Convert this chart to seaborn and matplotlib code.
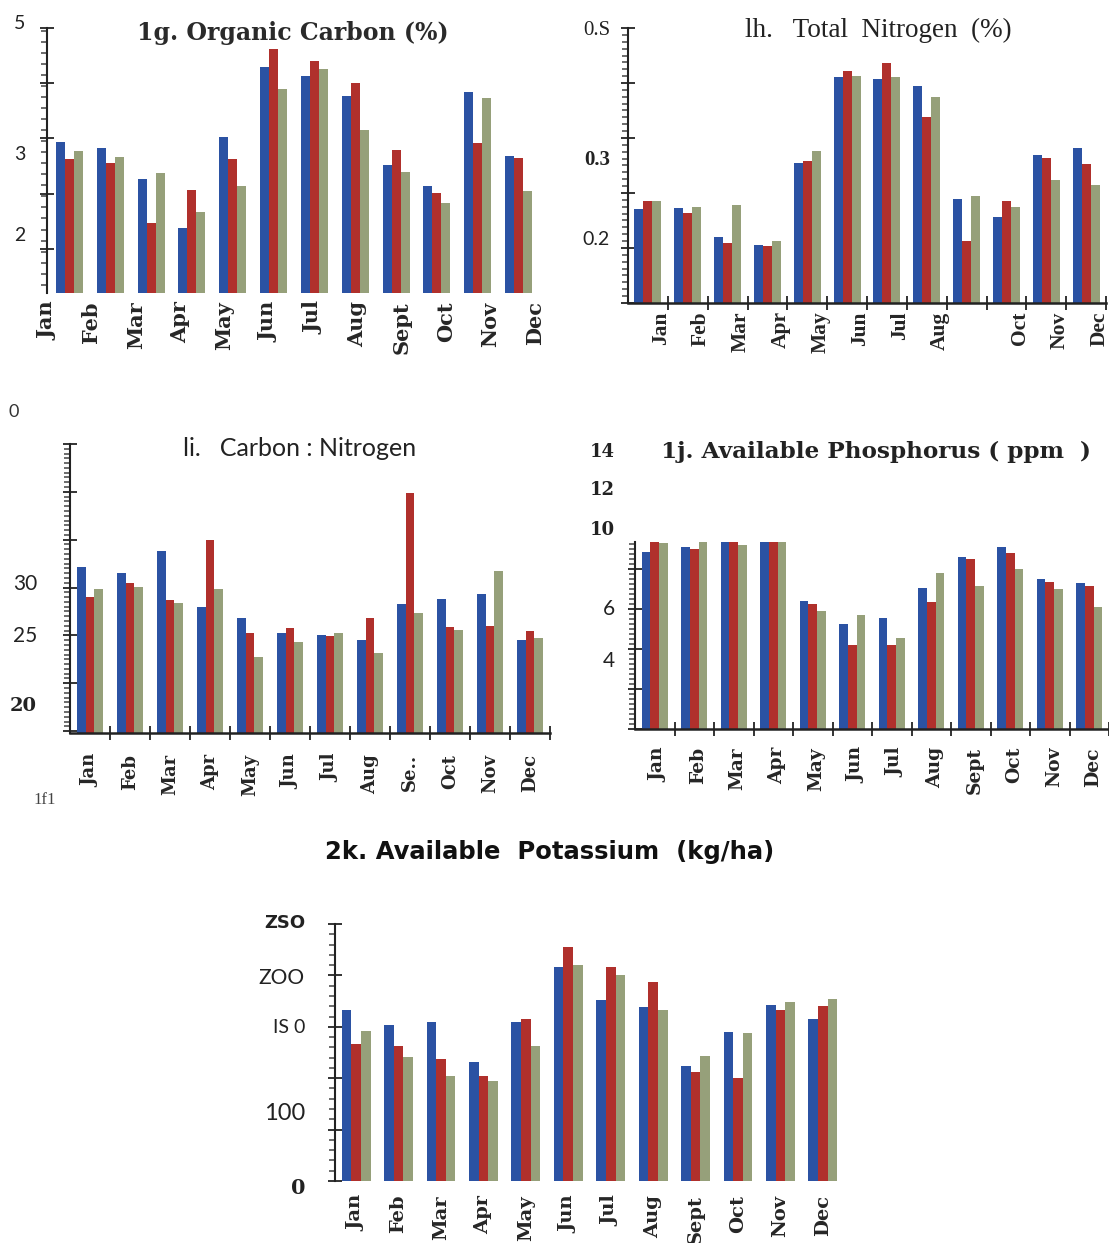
import numpy as np
import pandas as pd
import matplotlib
matplotlib.use("Agg")
import matplotlib.pyplot as plt
import seaborn as sns
from matplotlib.ticker import MultipleLocator, FixedLocator

W, H = 1109, 1243

months = ["Jan", "Feb", "Mar", "Apr", "May", "Jun",
          "Jul", "Aug", "Sept", "Oct", "Nov", "Dec"]
series = ["S1", "S2", "S3"]
colors = ["#2b52a3", "#b0302c", "#96a07a"]

# 1g. Organic Carbon (%)
oc_1 = [3.35, 3.26, 2.81, 2.10, 3.42, 4.43, 4.30, 4.01, 3.01, 2.71, 4.07, 3.15]
oc_2 = [3.10, 3.04, 2.17, 2.65, 3.10, 4.70, 4.52, 4.20, 3.23, 2.61, 3.33, 3.12]
oc_3 = [3.22, 3.13, 2.90, 2.33, 2.71, 4.12, 4.41, 3.52, 2.91, 2.46, 3.99, 2.64]

# lh. Total Nitrogen (%)
tn_1 = [0.237, 0.238, 0.196, 0.184, 0.304, 0.429, 0.426, 0.415, 0.251, 0.225, 0.315, 0.326]
tn_2 = [0.248, 0.231, 0.187, 0.183, 0.307, 0.437, 0.449, 0.371, 0.190, 0.248, 0.311, 0.302]
tn_3 = [0.248, 0.240, 0.243, 0.190, 0.321, 0.430, 0.429, 0.400, 0.256, 0.240, 0.279, 0.271]

# li. Carbon : Nitrogen
cn_1 = [32.1, 31.5, 33.8, 28.0, 26.8, 25.3, 25.0, 24.5, 28.3, 28.8, 29.3, 24.5]
cn_2 = [29.0, 30.5, 28.7, 35.0, 25.2, 25.8, 24.9, 26.8, 39.9, 25.9, 26.0, 25.5]
cn_3 = [29.8, 30.1, 28.4, 29.8, 22.7, 24.3, 25.2, 23.2, 27.3, 25.6, 31.7, 24.7]

# 1j. Available Phosphorus (ppm)
ph_1 = [8.85, 9.1, 9.4, 9.7, 6.4, 5.25, 5.55, 7.05, 8.6, 9.1, 7.5, 7.3]
ph_2 = [9.6, 9.0, 9.5, 9.6, 6.25, 4.2, 4.2, 6.35, 8.5, 8.8, 7.35, 7.15]
ph_3 = [9.3, 9.6, 9.2, 9.6, 5.9, 5.7, 4.55, 7.8, 7.15, 8.0, 7.0, 6.1]

# 2k. Available Potassium (kg/ha)
k_1 = [166, 152, 155, 116, 155, 208, 176, 169, 112, 145, 171, 158]
k_2 = [133, 131, 119, 102, 158, 228, 208, 194, 106, 100, 166, 170]
k_3 = [146, 121, 102, 97, 131, 210, 200, 166, 122, 144, 174, 177]

# printed axis labels (text, value where it sits)
oc_ylabels = [("5", 5.06), ("3", 3.16), ("2", 2.0)]
tn_ylabels = [("0.S", 0.496), ("0.3", 0.308), ("0.2", 0.192)]
cn_ylabels = [("30", 30.4), ("25", 24.9), ("20", 17.6)]
ph_ylabels = [("14", 13.85), ("12", 11.95), ("10", 9.95), ("6", 6.0), ("4", 3.4)]
k_ylabels = [("ZSO", 251), ("ZOO", 197.5), ("IS 0", 149), ("100", 66), ("0", -7)]

SERIF_B = dict(family="DejaVu Serif", fontweight="bold")
TIMES = dict(family="Liberation Serif")
SANS = dict(family="Lato")


def px_axes(fig, left, top, right, bottom):
    return fig.add_axes([left / W, 1 - bottom / H, (right - left) / W, (bottom - top) / H])


def draw_bars(ax, s1, s2, s3, width):
    df = pd.DataFrame({
        "month": months * 3,
        "series": np.repeat(series, 12),
        "value": s1 + s2 + s3,
    })
    sns.barplot(data=df, x="month", y="value", hue="series", order=months,
                hue_order=series, palette=colors, width=width, saturation=1,
                errorbar=None, legend=False, linewidth=0, ax=ax)
    ax.set_xlim(-0.5, 11.5)
    ax.set_xlabel("")
    ax.set_ylabel("")


def style_axes(ax, ylim, majors, minor, xaxis_line, pad, label_pos, labels, lab_font):
    ax.set_ylim(*ylim)
    ax.yaxis.set_major_locator(FixedLocator(majors))
    ax.yaxis.set_minor_locator(MultipleLocator(minor))
    ax.set_yticklabels([])
    ax.tick_params(axis="y", which="both", left=True)
    ax.tick_params(axis="y", which="major", direction="inout", length=10, width=1.4, color="#333333")
    ax.tick_params(axis="y", which="minor", direction="out", length=4.5, width=1.1, color="#444444")
    for side in ["top", "right"]:
        ax.spines[side].set_visible(False)
    ax.spines["left"].set_linewidth(1.5)
    ax.spines["left"].set_color("#222222")
    if xaxis_line:
        ax.spines["bottom"].set_linewidth(1.8)
        ax.spines["bottom"].set_color("#222222")
        ax.xaxis.set_minor_locator(FixedLocator(np.arange(0.5, 11.6, 1)))
        ax.tick_params(axis="x", which="minor", bottom=True, direction="inout",
                       length=10, width=1.4, color="#333333")
    else:
        ax.spines["bottom"].set_visible(False)
    ax.set_xticks(label_pos)
    ax.set_xticklabels(labels, rotation=90, ha="center", va="top", **lab_font)
    ax.tick_params(axis="x", which="major", length=0, pad=pad)
    ax.patch.set_alpha(0)


def ytext(ax, items, dx, fonts):
    for (txt, val), f in zip(items, fonts):
        ax.annotate(txt, xy=(0, val), xycoords=("axes fraction", "data"),
                    xytext=(-dx, 0), textcoords="offset pixels",
                    ha="right", va="center", annotation_clip=False, color="#222222", **f)


sns.set_style("white")
plt.rcParams["font.family"] = ["DejaVu Sans"]

fig = plt.figure(figsize=(W / 100, H / 100), dpi=100)
fig.patch.set_facecolor("white")

# ---- 1g Organic carbon
ax1 = px_axes(fig, 47, 28, 539, 293)
draw_bars(ax1, oc_1, oc_2, oc_3, 0.66)
style_axes(ax1, (1.16, 5.0), [5.0, 4.2, 3.4, 2.6, 1.8], 0.16, False, 6,
           -0.55 + 1.086 * np.arange(12), months, dict(fontsize=15, **SERIF_B))
ytext(ax1, oc_ylabels, 22, [dict(fontsize=14, **SANS)] * 3)
fig.text(293 / W, 1 - 33 / H, "1g. Organic Carbon (%)", ha="center", va="center",
         fontsize=17, color="#2a2a2a", **SERIF_B)

# ---- lh Total nitrogen
ax2 = px_axes(fig, 628, 28, 1106, 303)
draw_bars(ax2, tn_1, tn_2, tn_3, 0.68)
tn_months = months[:8] + [""] + months[9:]
style_axes(ax2, (0.1, 0.5), np.arange(0.1, 0.51, 0.08), 0.01, True, 6,
           np.arange(12) + 0.33, tn_months, dict(fontsize=15.5, fontweight="bold", **TIMES))
ytext(ax2, tn_ylabels, 18, [dict(fontsize=15, **TIMES),
                            dict(fontsize=15, fontweight="bold", **TIMES),
                            dict(fontsize=14, **SANS)])
fig.text(878 / W, 1 - 30 / H, "lh.   Total  Nitrogen  (%)", ha="center", va="center",
         fontsize=19.5, color="#222222", **TIMES)

# ---- li Carbon : Nitrogen
ax3 = px_axes(fig, 70, 444, 550, 733)
draw_bars(ax3, cn_1, cn_2, cn_3, 0.66)
cn_months = months[:8] + ["Se.."] + months[9:]
style_axes(ax3, (14.8, 45), np.arange(15, 46, 5), 0.5, True, 15,
           np.arange(12), cn_months, dict(fontsize=13, **SERIF_B))
ytext(ax3, cn_ylabels, 33, [dict(fontsize=15, **SANS), dict(fontsize=15, **SANS),
                            dict(fontsize=14, **SERIF_B)])
fig.text(300 / W, 1 - 449 / H, "li.   Carbon : Nitrogen", ha="center", va="center",
         fontsize=18, color="#222222", **SANS)

# ---- 1j Available phosphorus
ax4 = px_axes(fig, 635, 542, 1109, 729)
draw_bars(ax4, ph_1, ph_2, ph_3, 0.65)
style_axes(ax4, (0, 9.35), [0, 2, 4, 6, 8], 0.25, True, 13,
           np.arange(12) + 0.1, months, dict(fontsize=13.5, **SERIF_B))
ytext(ax4, ph_ylabels, 20, [dict(fontsize=13, **SERIF_B)] * 3 + [dict(fontsize=15, **SANS)] * 2)
fig.text(876 / W, 1 - 452 / H, "1j. Available Phosphorus ( ppm  )", ha="center", va="center",
         fontsize=16.7, color="#222222", **SERIF_B)

# ---- 2k Available potassium
ax5 = px_axes(fig, 335, 924, 844, 1181)
draw_bars(ax5, k_1, k_2, k_3, 0.68)
style_axes(ax5, (0, 250), np.arange(0, 251, 50), 10, False, 10,
           np.arange(12), months, dict(fontsize=14, **SERIF_B))
ytext(ax5, k_ylabels, 30, [dict(fontsize=13, family="DejaVu Sans", fontweight="heavy"),
                           dict(fontsize=15, **SANS), dict(fontsize=14, **SANS),
                           dict(fontsize=17, **SANS), dict(fontsize=15, **SERIF_B)])
fig.text(550 / W, 1 - 852 / H, "2k. Available  Potassium  (kg/ha)", ha="center", va="center",
         fontsize=17.5, fontweight="bold", color="#111111", family=["DejaVu Sans"])

# stray marks of the scan
fig.text(14 / W, 1 - 412 / H, "0", ha="center", va="center", fontsize=13, color="#333333", **SANS)
fig.text(45 / W, 1 - 800 / H, "1f1", ha="center", va="center", fontsize=12, color="#444444", **TIMES)

fig.savefig("out.png", dpi=100, facecolor="white")
